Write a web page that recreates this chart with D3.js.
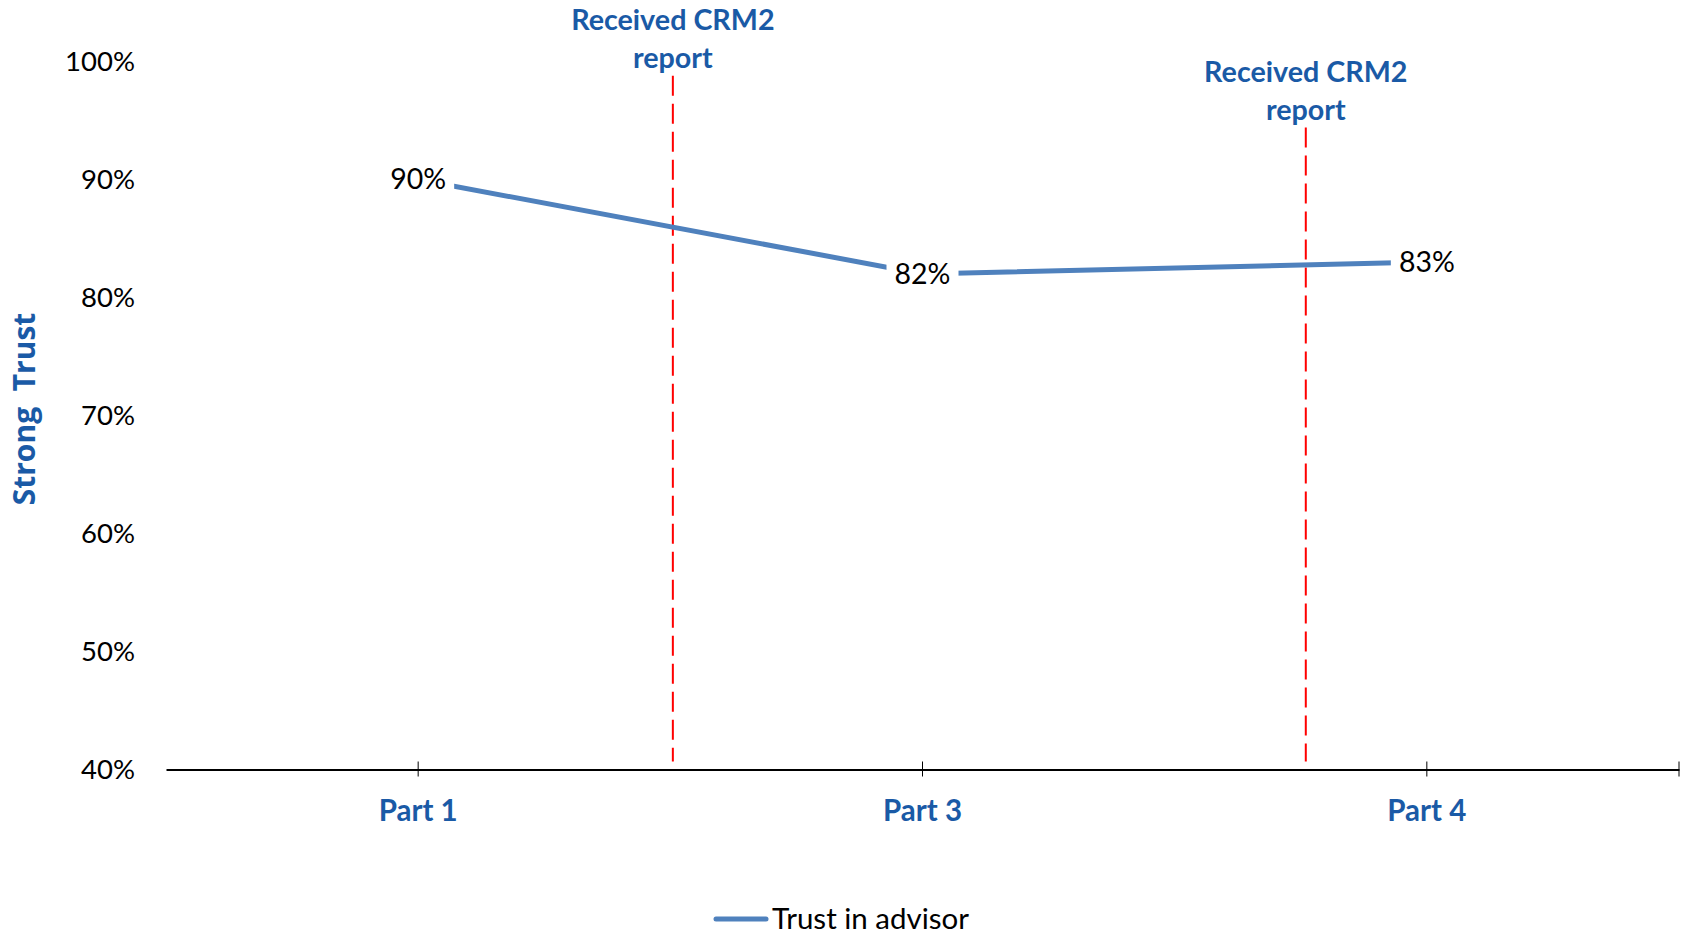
<!DOCTYPE html>
<html>
<head>
<meta charset="utf-8">
<script src="https://cdn.jsdelivr.net/npm/d3@7"></script>
<style>
  body { margin: 0; background: #fff; }
  svg { display: block; font-family: Lato, "Open Sans", sans-serif; }
</style>
</head>
<body>
<svg width="1688" height="934"></svg>
<script>
// data
const categories = ["Part 1", "Part 3", "Part 4"];
const trustValues = [0.90, 0.82, 0.83];
const seriesName = "Trust in advisor";
const yTicks = [0.4, 0.5, 0.6, 0.7, 0.8, 0.9, 1.0];
// CRM2 report events, placed in category-index units
const eventIndex = [0.505, 1.76];
const eventTop = [0.988, 0.944];
const eventLabel = ["Received CRM2", "report"];

const blue = "#1a5aa6";
const lineBlue = "#4f81bd";

const svg = d3.select("svg");

const plotLeft = 166, plotRight = 1679, plotTop = 61.5, plotBottom = 769.5;

const x = d3.scaleBand()
    .domain(categories)
    .range([plotLeft, plotRight])
    .padding(0);

const xIdx = d3.scaleLinear()
    .domain([0, categories.length - 1])
    .range([x(categories[0]) + x.bandwidth() / 2, x(categories[categories.length - 1]) + x.bandwidth() / 2]);

const y = d3.scaleLinear()
    .domain([0.4, 1.0])
    .range([plotBottom, plotTop]);

// y axis labels (no axis line)
const yAxis = svg.append("g")
    .attr("transform", `translate(135,0)`)
    .call(d3.axisLeft(y).tickValues(yTicks).tickSize(0).tickPadding(0).tickFormat(d3.format(".0%")));
yAxis.select(".domain").remove();
yAxis.selectAll("text")
    .attr("font-family", "Lato, sans-serif")
    .attr("font-size", 27.5)
    .attr("fill", "#000");

// y title
svg.append("text")
    .attr("transform", `translate(24,409) rotate(-90)`)
    .attr("text-anchor", "middle")
    .attr("dy", "0.35em")
    .attr("font-family", "'Open Sans', sans-serif")
    .attr("font-weight", "bold")
    .attr("font-size", 30)
    .attr("fill", blue)
    .attr("xml:space", "preserve")
    .text("Strong  Trust");

// red dashed event lines
svg.selectAll(".event")
    .data(eventIndex)
    .join("line")
    .attr("class", "event")
    .attr("x1", d => xIdx(d))
    .attr("x2", d => xIdx(d))
    .attr("y1", (d, i) => y(eventTop[i]))
    .attr("y2", plotBottom - 8)
    .attr("stroke", "#ff0000")
    .attr("stroke-width", 2)
    .attr("stroke-dasharray", "20,8");

// event labels
eventIndex.forEach((d, i) => {
    const t = svg.append("text")
        .attr("x", xIdx(d))
        .attr("y", y(eventTop[i]) - 46)
        .attr("text-anchor", "middle")
        .attr("font-weight", "bold")
        .attr("font-size", 28.7)
        .attr("fill", blue);
    eventLabel.forEach((s, j) => {
        t.append("tspan")
            .attr("x", xIdx(d))
            .attr("dy", j === 0 ? 0 : 38)
            .text(s);
    });
});

// x axis
const xAxis = svg.append("g")
    .attr("transform", `translate(0,${plotBottom})`)
    .call(d3.axisBottom(x).tickSizeOuter(0).tickPadding(0));
xAxis.select(".domain")
    .attr("stroke", "#000")
    .attr("stroke-width", 2);
xAxis.selectAll(".tick line")
    .attr("y1", -8)
    .attr("y2", 7)
    .attr("stroke", "#000");
xAxis.selectAll(".tick text")
    .attr("y", 41)
    .attr("dy", "0.35em")
    .attr("font-family", "Lato, sans-serif")
    .attr("font-weight", "bold")
    .attr("font-size", 29.5)
    .attr("fill", blue);
xAxis.append("line")
    .attr("x1", plotRight).attr("x2", plotRight)
    .attr("y1", -8).attr("y2", 7)
    .attr("stroke", "#000");

// series line
const pts = categories.map((c, i) => [x(c) + x.bandwidth() / 2, y(trustValues[i])]);
svg.append("path")
    .datum(pts)
    .attr("d", d3.line())
    .attr("fill", "none")
    .attr("stroke", lineBlue)
    .attr("stroke-width", 5);

// data labels with white box
const lab = svg.selectAll(".dlab")
    .data(pts)
    .join("g")
    .attr("class", "dlab")
    .attr("transform", d => `translate(${d[0]},${d[1]})`);
lab.append("rect")
    .attr("x", -36).attr("y", -17)
    .attr("width", 72).attr("height", 34)
    .attr("fill", "#fff");
lab.append("text")
    .attr("text-anchor", "middle")
    .attr("dy", "0.35em")
    .attr("font-size", 28.5)
    .attr("fill", "#000")
    .text((d, i) => d3.format(".0%")(trustValues[i]));

// legend
const lg = svg.append("g").attr("transform", "translate(713,919)");
lg.append("line")
    .attr("x1", 3).attr("x2", 53)
    .attr("stroke", lineBlue)
    .attr("stroke-width", 5)
    .attr("stroke-linecap", "round");
lg.append("text")
    .attr("x", 59)
    .attr("dy", "0.35em")
    .attr("font-size", 29.5)
    .attr("fill", "#000")
    .text(seriesName);
</script>
</body>
</html>
